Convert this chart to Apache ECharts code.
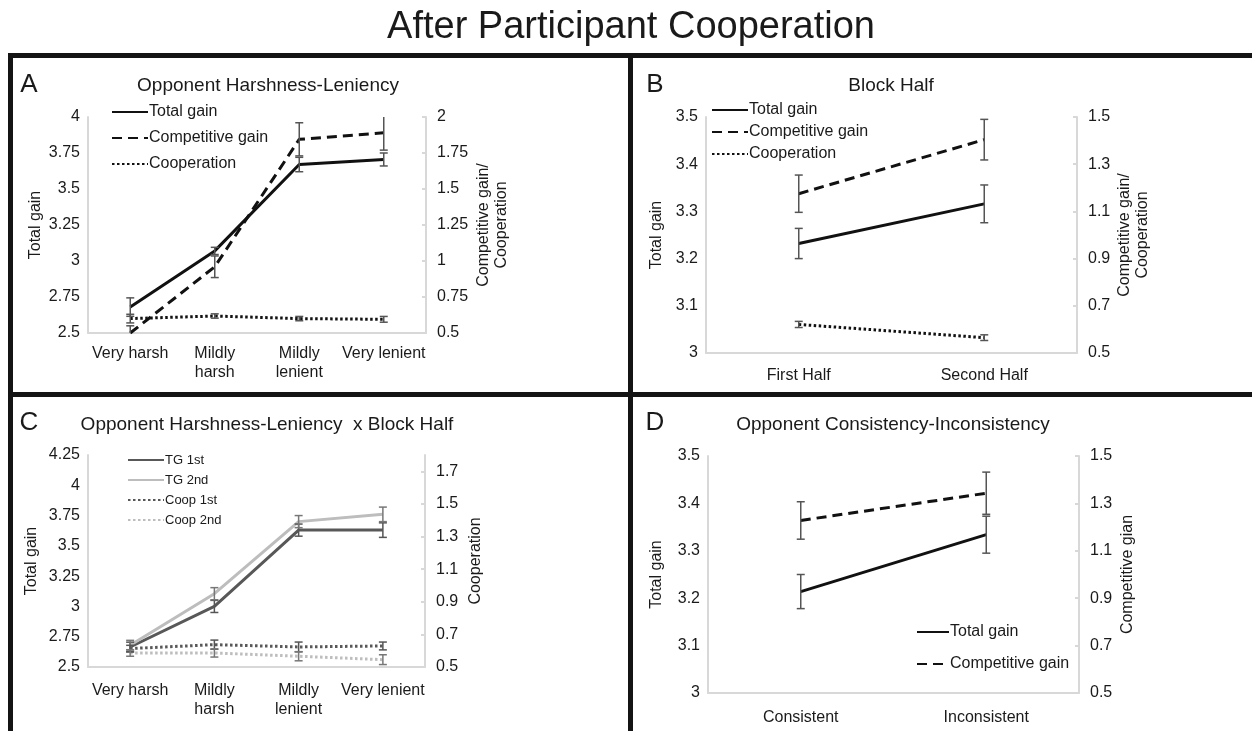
<!DOCTYPE html>
<html>
<head>
<meta charset="utf-8">
<script src="https://cdn.jsdelivr.net/npm/echarts@6/dist/echarts.min.js"></script>
<style>
html,body{margin:0;padding:0;background:#fff;}
#chart{width:1252px;height:731px;}
</style>
</head>
<body>
<div id="chart"></div>
<script>
// ---------- categories ----------
const harshCats = ['Very harsh', 'Mildly\nharsh', 'Mildly\nlenient', 'Very lenient'];
const halfCats = ['First Half', 'Second Half'];
const consCats = ['Consistent', 'Inconsistent'];

// ---------- Panel A: Opponent Harshness-Leniency ----------
const aTotalGain = [2.68, 3.07, 3.67, 3.705];
const aTotalGainErr = [0.064, 0.025, 0.05, 0.045];
const aCompGain = [0.5, 0.96, 1.845, 1.89];
const aCompGainErr = [0.05, 0.075, 0.115, 0.12];
const aCoop = [0.60, 0.618, 0.60, 0.595];
const aCoopErr = [0.03, 0.015, 0.015, 0.02];

// ---------- Panel B: Block Half ----------
const bTotalGain = [3.232, 3.316];
const bTotalGainErr = [0.032, 0.040];
const bCompGain = [1.175, 1.404];
const bCompGainErr = [0.079, 0.086];
const bCoop = [0.621, 0.565];
const bCoopErr = [0.013, 0.012];

// ---------- Panel C: Harshness-Leniency x Block Half ----------
const cTG1 = [2.665, 3.0, 3.63, 3.63];
const cTG1Err = [0.04, 0.05, 0.05, 0.06];
const cTG2 = [2.68, 3.105, 3.70, 3.76];
const cTG2Err = [0.04, 0.05, 0.05, 0.06];
const cCoop1 = [0.613, 0.637, 0.623, 0.629];
const cCoop1Err = [0.02, 0.028, 0.03, 0.024];
const cCoop2 = [0.586, 0.586, 0.566, 0.545];
const cCoop2Err = [0.02, 0.025, 0.028, 0.03];

// ---------- Panel D: Consistency-Inconsistency ----------
const dTotalGain = [3.214, 3.334];
const dTotalGainErr = [0.036, 0.039];
const dCompGain = [1.228, 1.343];
const dCompGainErr = [0.079, 0.089];

// ---------- tick labels ----------
const aLeftTicks = {min: 2.5, max: 4, interval: 0.25};
const aRightTicks = {min: 0.5, max: 2, interval: 0.25};
const bLeftTicks = {min: 3, max: 3.5, interval: 0.1};
const bRightTicks = {min: 0.5, max: 1.5, interval: 0.2};
const cLeftTicks = {min: 2.5, max: 4.25, interval: 0.25};
const cRightTicks = {min: 0.5, max: 1.8, interval: 0.2};

const FONT = "'Liberation Sans', Arial, sans-serif";
const TXT = '#1a1a1a';
const AXC = '#d8d8d8';
const DASH = [10, 6];
const DOT = [2.5, 2.5];
const DARK = '#585858';
const LIGHT = '#bdbdbd';

function fmt(v) { return String(+v.toFixed(2)); }

function xAx(grid, cats, margin) {
  return {
    type: 'category', gridIndex: grid, data: cats, boundaryGap: true,
    axisLine: {lineStyle: {color: AXC, width: 2}},
    axisTick: {show: false},
    axisLabel: {color: TXT, fontSize: 16, fontFamily: FONT, margin: margin, lineHeight: 19, interval: 0}
  };
}
function yAx(grid, t, pos, name, gap, hideMax) {
  return {
    type: 'value', gridIndex: grid, position: pos, min: t.min, max: t.max, interval: t.interval,
    name: name, nameLocation: 'middle', nameGap: gap, nameRotate: 90,
    nameTextStyle: {color: TXT, fontSize: 16, fontFamily: FONT, lineHeight: 18},
    splitLine: {show: false},
    axisLine: {show: true, lineStyle: {color: AXC, width: 2}},
    axisTick: {show: pos === 'right', inside: true, length: 4, lineStyle: {color: AXC, width: 2}},
    axisLabel: {color: TXT, fontSize: 16, fontFamily: FONT, margin: pos === 'right' ? 11 : 8,
      formatter: fmt, showMaxLabel: hideMax ? false : null}
  };
}
function line(name, x, y, data, color, type, width) {
  return {
    type: 'line', name: name, xAxisIndex: x, yAxisIndex: y, data: data,
    symbol: 'none', z: 3,
    lineStyle: {color: color, width: width || 3, type: type || 'solid'},
    itemStyle: {color: color}
  };
}
function errBar(x, y, vals, errs, color) {
  return {
    type: 'custom', xAxisIndex: x, yAxisIndex: y, z: 4, clip: true, silent: true,
    data: vals.map((v, i) => [i, v, errs[i]]),
    renderItem: function (params, api) {
      const i = api.value(0), v = api.value(1), e = api.value(2);
      const top = api.coord([i, v + e]);
      const bot = api.coord([i, v - e]);
      const cw = 4;
      const st = {stroke: color, lineWidth: 1.5};
      return {
        type: 'group', children: [
          {type: 'line', shape: {x1: top[0], y1: top[1], x2: bot[0], y2: bot[1]}, style: st},
          {type: 'line', shape: {x1: top[0] - cw, y1: top[1], x2: top[0] + cw, y2: top[1]}, style: st},
          {type: 'line', shape: {x1: bot[0] - cw, y1: bot[1], x2: bot[0] + cw, y2: bot[1]}, style: st}
        ]
      };
    }
  };
}
function legend(names, left, top, fs, gap, lh, w) {
  return {
    data: names, orient: 'vertical', left: left, top: top,
    itemWidth: w || 36, itemHeight: 10, itemGap: gap, selectedMode: false,
    itemStyle: {color: 'transparent', borderColor: 'transparent', borderWidth: 0, opacity: 0},
    textStyle: {color: TXT, fontSize: fs, fontFamily: FONT, lineHeight: lh, padding: [0, 0, 0, -4]},
    padding: 0
  };
}

const chart = echarts.init(document.getElementById('chart'), null, {renderer: 'canvas'});

const option = {
  backgroundColor: '#ffffff',
  animation: false,
  textStyle: {fontFamily: FONT},
  grid: [
    {left: 88, top: 117, width: 338, height: 216},
    {left: 706, top: 117, width: 371, height: 236},
    {left: 88, top: 455, width: 337, height: 212},
    {left: 708, top: 456, width: 371, height: 237}
  ],
  xAxis: [
    xAx(0, harshCats, 11),
    xAx(1, halfCats, 13),
    xAx(2, harshCats, 14),
    xAx(3, consCats, 15)
  ],
  yAxis: [
    yAx(0, aLeftTicks, 'left', 'Total gain', 43),
    yAx(0, aRightTicks, 'right', 'Competitive gain/\nCooperation', 49),
    yAx(1, bLeftTicks, 'left', 'Total gain', 40),
    yAx(1, bRightTicks, 'right', 'Competitive gain/\nCooperation', 39),
    yAx(2, cLeftTicks, 'left', 'Total gain', 47),
    yAx(2, cRightTicks, 'right', 'Cooperation', 42, true),
    yAx(3, bLeftTicks, 'left', 'Total gain', 42),
    yAx(3, bRightTicks, 'right', 'Competitive gian', 40)
  ],
  legend: [
    legend(['Total gain', 'Competitive gain', 'Cooperation'], 111, 103, 16, 8, 18),
    legend(['Total gain', 'Competitive gain', 'Cooperation'], 711, 101, 16, 4, 18),
    legend(['TG 1st', 'TG 2nd', 'Coop 1st', 'Coop 2nd'], 127, 452, 13, 4, 16),
    legend(['Total gain', 'Competitive gain'], 916, 623, 16, 14, 18, 32)
  ],
  series: [
    // A
    line('Total gain', 0, 0, aTotalGain, '#111', 'solid', 3),
    line('Competitive gain', 0, 1, aCompGain, '#111', DASH, 3),
    line('Cooperation', 0, 1, aCoop, '#111', DOT, 3),
    errBar(0, 0, aTotalGain, aTotalGainErr, '#555'),
    errBar(0, 1, aCompGain, aCompGainErr, '#555'),
    errBar(0, 1, aCoop, aCoopErr, '#555'),
    // B
    line('Total gain', 1, 2, bTotalGain, '#111', 'solid', 3),
    line('Competitive gain', 1, 3, bCompGain, '#111', DASH, 3),
    line('Cooperation', 1, 3, bCoop, '#111', DOT, 3),
    errBar(1, 2, bTotalGain, bTotalGainErr, '#555'),
    errBar(1, 3, bCompGain, bCompGainErr, '#555'),
    errBar(1, 3, bCoop, bCoopErr, '#555'),
    // C
    line('TG 1st', 2, 4, cTG1, DARK, 'solid', 3),
    line('TG 2nd', 2, 4, cTG2, LIGHT, 'solid', 3),
    line('Coop 1st', 2, 5, cCoop1, DARK, DOT, 3),
    line('Coop 2nd', 2, 5, cCoop2, LIGHT, DOT, 3),
    errBar(2, 4, cTG1, cTG1Err, '#555'),
    errBar(2, 4, cTG2, cTG2Err, '#777'),
    errBar(2, 5, cCoop1, cCoop1Err, '#555'),
    errBar(2, 5, cCoop2, cCoop2Err, '#777'),
    // D
    line('Total gain', 3, 6, dTotalGain, '#111', 'solid', 3),
    line('Competitive gain', 3, 7, dCompGain, '#111', DASH, 3),
    errBar(3, 6, dTotalGain, dTotalGainErr, '#555'),
    errBar(3, 7, dCompGain, dCompGainErr, '#555')
  ],
  graphic: [
    {type: 'rect', shape: {x: 8, y: 53, width: 1244, height: 5}, style: {fill: '#141414'}, silent: true},
    {type: 'rect', shape: {x: 8, y: 53, width: 5, height: 678}, style: {fill: '#141414'}, silent: true},
    {type: 'rect', shape: {x: 628, y: 53, width: 5, height: 678}, style: {fill: '#141414'}, silent: true},
    {type: 'rect', shape: {x: 8, y: 392, width: 1244, height: 5}, style: {fill: '#141414'}, silent: true},
    {type: 'text', x: 631, y: 28, style: {text: 'After Participant Cooperation', fill: TXT, font: "38px " + FONT, textAlign: 'center', textVerticalAlign: 'middle'}},
    {type: 'text', x: 29, y: 85, style: {text: 'A', fill: TXT, font: "26px " + FONT, textAlign: 'center', textVerticalAlign: 'middle'}},
    {type: 'text', x: 655, y: 85, style: {text: 'B', fill: TXT, font: "26px " + FONT, textAlign: 'center', textVerticalAlign: 'middle'}},
    {type: 'text', x: 29, y: 423, style: {text: 'C', fill: TXT, font: "26px " + FONT, textAlign: 'center', textVerticalAlign: 'middle'}},
    {type: 'text', x: 655, y: 423, style: {text: 'D', fill: TXT, font: "26px " + FONT, textAlign: 'center', textVerticalAlign: 'middle'}},
    {type: 'text', x: 268, y: 86, style: {text: 'Opponent Harshness-Leniency', fill: TXT, font: "19px " + FONT, textAlign: 'center', textVerticalAlign: 'middle'}},
    {type: 'text', x: 891, y: 86, style: {text: 'Block Half', fill: TXT, font: "19px " + FONT, textAlign: 'center', textVerticalAlign: 'middle'}},
    {type: 'text', x: 267, y: 425, style: {text: 'Opponent Harshness-Leniency  x Block Half', fill: TXT, font: "19px " + FONT, textAlign: 'center', textVerticalAlign: 'middle'}},
    {type: 'text', x: 893, y: 425, style: {text: 'Opponent Consistency-Inconsistency', fill: TXT, font: "19px " + FONT, textAlign: 'center', textVerticalAlign: 'middle'}}
  ]
};
chart.setOption(option);
</script>
</body>
</html>
